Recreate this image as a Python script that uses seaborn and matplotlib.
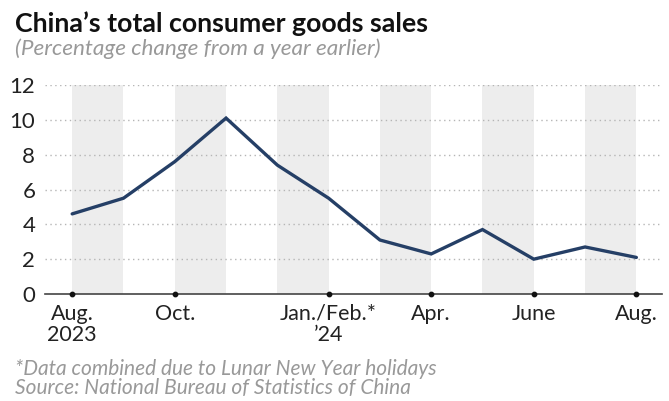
import matplotlib
matplotlib.use("Agg")
import matplotlib.pyplot as plt
import seaborn as sns
import pandas as pd

months = ["Aug 2023", "Sep", "Oct", "Nov", "Dec", "Jan/Feb 2024",
          "Mar", "Apr", "May", "Jun", "Jul", "Aug 2024"]
sales_change = [4.6, 5.5, 7.6, 10.1, 7.4, 5.5, 3.1, 2.3, 3.7, 2.0, 2.7, 2.1]
tick_idx = [0, 2, 5, 7, 9, 11]
tick_labels = ["Aug.\n2023", "Oct.", "Jan./Feb.*\n\u201924", "Apr.", "June", "Aug."]
y_ticks = [0, 2, 4, 6, 8, 10, 12]

sns.set_theme(style="white")
plt.rcParams["font.family"] = ["Lato", "DejaVu Sans"]

df = pd.DataFrame({"idx": range(len(months)), "month": months, "value": sales_change})

fig = plt.figure(figsize=(6.69, 4.01), dpi=100)
ax = fig.add_axes([45 / 669, 1 - 294 / 401, 617 / 669, 209 / 401])

# alternating grey columns
for i in range(0, len(months) - 1, 2):
    ax.axvspan(i, i + 1, color="#ededed", lw=0, zorder=0)

sns.lineplot(data=df, x="idx", y="value", ax=ax, color="#253f66", lw=2.4,
             zorder=3, solid_joinstyle="miter")

ax.set_xlim(-0.53, 11.5)
ax.set_ylim(0, 12)
ax.set_yticks(y_ticks)
ax.set_yticklabels([str(v) for v in y_ticks], fontsize=16, color="#222222")
ax.set_xticks(tick_idx)
ax.set_xticklabels(tick_labels, fontsize=15.5, color="#222222", linespacing=1.05)
ax.tick_params(axis="x", length=0, pad=7)
ax.tick_params(axis="y", length=0, pad=7)

for y in y_ticks[1:]:
    ax.axhline(y, color="#b5b5b5", lw=1, ls=(0, (1, 2.5)), zorder=1)

for side in ["top", "right", "left"]:
    ax.spines[side].set_visible(False)
ax.spines["bottom"].set_color("#444444")
ax.spines["bottom"].set_linewidth(1.2)
ax.scatter(tick_idx, [0] * len(tick_idx), s=10, color="#111111", zorder=4, clip_on=False)
ax.set_xlabel("")
ax.set_ylabel("")

fig.text(15 / 669, 1 - 32 / 401, "China\u2019s total consumer goods sales",
         fontsize=19.3, fontweight="bold", color="#111111", va="baseline")
fig.text(15 / 669, 1 - 55 / 401, "(Percentage change from a year earlier)",
         fontsize=16.2, fontstyle="italic", color="#999999", va="baseline")
fig.text(15 / 669, 1 - 375 / 401, "*Data combined due to Lunar New Year holidays",
         fontsize=15, fontstyle="italic", color="#999999", va="baseline")
fig.text(15 / 669, 1 - 394 / 401, "Source: National Bureau of Statistics of China",
         fontsize=15, fontstyle="italic", color="#999999", va="baseline")

fig.savefig("out.png", dpi=100)
